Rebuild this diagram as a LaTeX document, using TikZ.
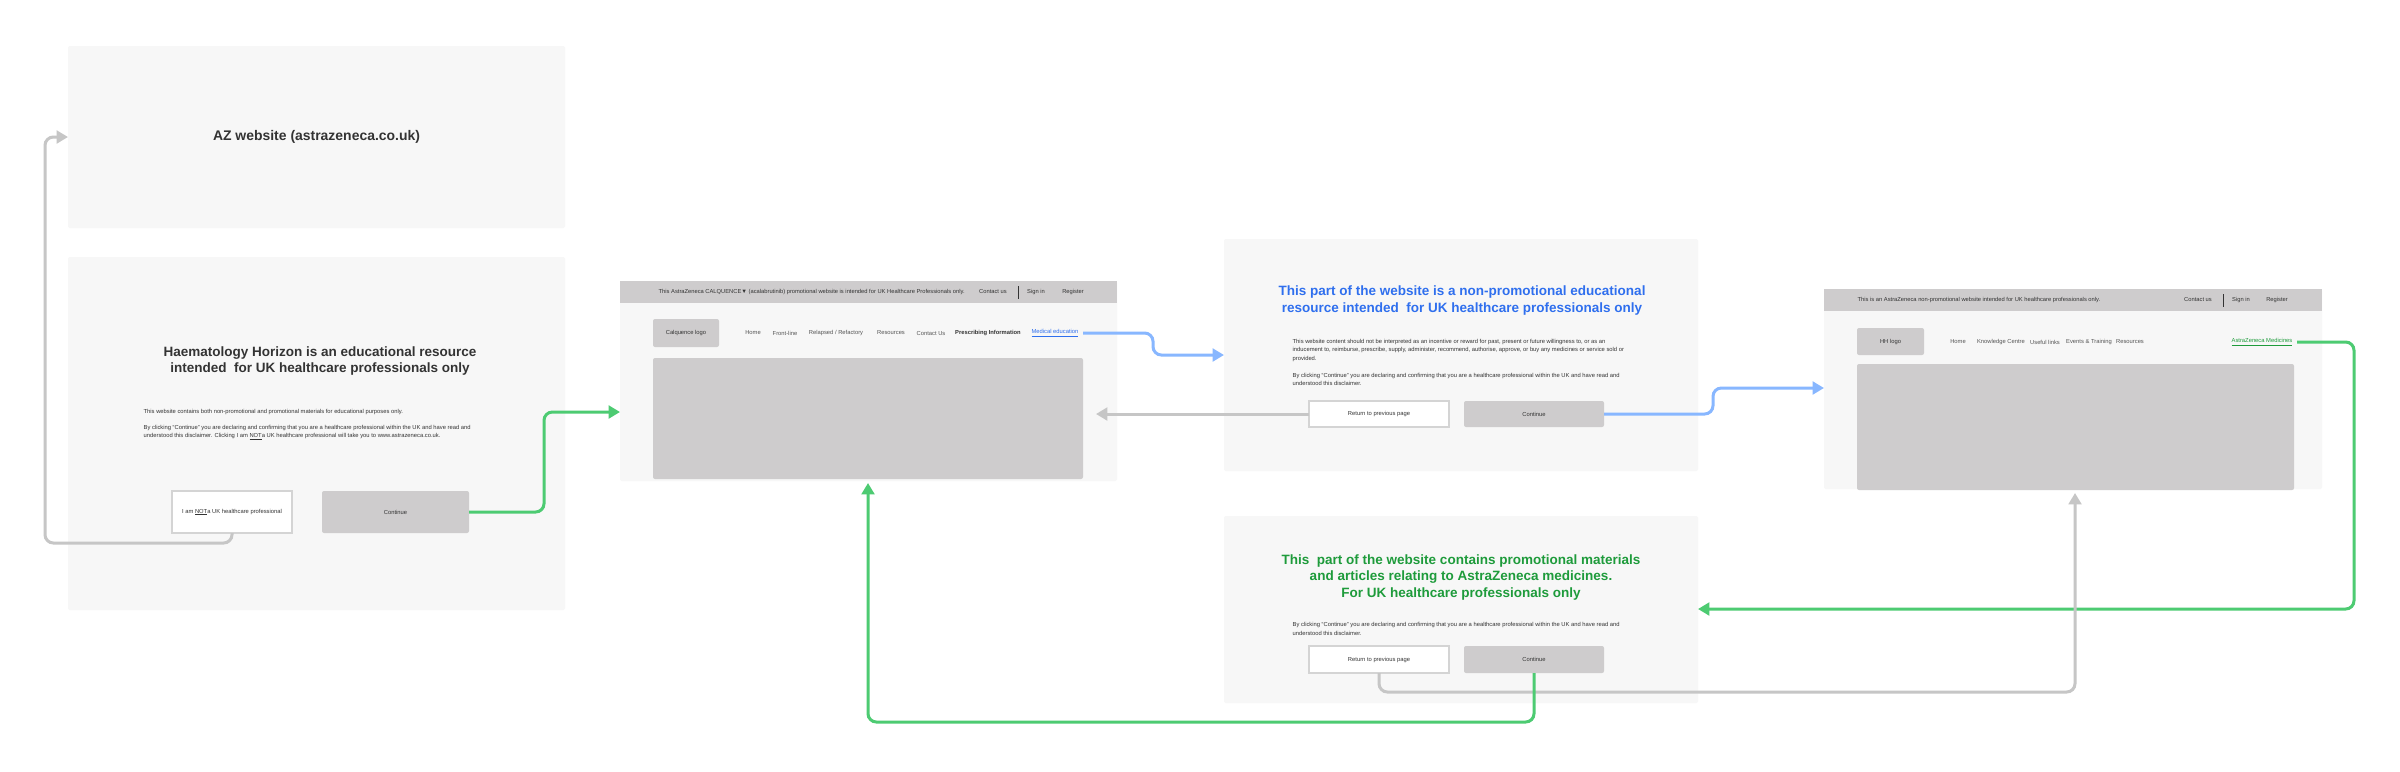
\documentclass[tikz,border=0pt]{standalone}
\usepackage{fontspec}
\setmainfont{Liberation Sans}
\usetikzlibrary{arrows.meta,calc}
\definecolor{boxfill}{HTML}{F7F7F7}
\definecolor{btngray}{HTML}{CECCCD}
\definecolor{btnborder}{HTML}{D4D4D4}
\definecolor{linegray}{HTML}{C6C6C6}
\definecolor{lgreen}{HTML}{4DCB72}
\definecolor{lblue}{HTML}{88B7FF}
\definecolor{tblue}{HTML}{2F6FEE}
\definecolor{tgreen}{HTML}{1E9B3B}
\definecolor{txt}{HTML}{333333}
\definecolor{navtxt}{HTML}{555555}
\newlength\mw
\newcommand{\mkbox}[7][]{\node[anchor=north west, inner sep=0pt, outer sep=0pt, minimum width={(#5-#3)*0.3pt}, minimum height={(#6-#4)*0.3pt}, #1] (#2) at (#3,#4) {#7};}
% underline: [thickness]{offset below baseline}{text}
\newcommand{\myul}[3][0.12pt]{\setbox0\hbox{#3}\rlap{\vrule height -#2 depth \dimexpr#2+#1\relax width \wd0}\box0}
\begin{document}
% --- font sizes fitted to the reference line widths (measured outside the picture) ---
\settowidth\mw{\fontsize{10pt}{12pt}\selectfont By clicking “Continue” you are declaring and confirming that you are a healthcare professional within the UK and have read and}%
\pgfmathsetmacro\fsS{10*98.1/\mw}%
\settowidth\mw{\fontsize{10pt}{12pt}\selectfont This AstraZeneca CALQUENCE▼ (acalabrutinib) promotional website is intended for UK Healthcare Professionals only.}%
\pgfmathsetmacro\fsB{10*91.8/\mw}%
\settowidth\mw{\fontsize{10pt}{12pt}\selectfont\bfseries Haematology Horizon is an educational resource}%
\pgfmathsetmacro\fsT{10*93.9/\mw}%
\settowidth\mw{\fontsize{10pt}{12pt}\selectfont\bfseries AZ website (astrazeneca.co.uk)}%
\pgfmathsetmacro\fsA{10*62.1/\mw}%
\tikzset{
  panel/.style={fill=boxfill, draw=none, rounded corners=0.6pt},
  graybar/.style={fill=btngray, draw=none},
  grayblk/.style={fill=btngray, draw=none, rounded corners=0.6pt},
  whitebtn/.style={fill=white, draw=btnborder, line width=0.45pt},
  tiny/.style={font=\fontsize{\fsS pt}{2.46pt}\selectfont, text=txt, inner sep=0pt},
  bartxt/.style={font=\fontsize{\fsB pt}{2.46pt}\selectfont, text=txt, inner sep=0pt},
  navt/.style={font=\fontsize{\fsS pt}{2.46pt}\selectfont, text=navtxt, inner sep=0pt},
  navb/.style={font=\bfseries\fontsize{\fsS pt}{2.46pt}\selectfont, text=txt, inner sep=0pt},
  ttl/.style={font=\bfseries\fontsize{\fsT pt}{4.95pt}\selectfont, align=center, inner sep=0pt},
  azttl/.style={font=\bfseries\fontsize{\fsA pt}{4.95pt}\selectfont, align=center, inner sep=0pt},
  link/.style={line width=0.9pt, rounded corners=2.5pt, -{Triangle[length=3.4pt,width=3.8pt]}},
  sepline/.style={draw=txt, line width=0.3pt},
}%
\begin{tikzpicture}[x=0.3pt, y=-0.3pt]
\useasboundingbox (0,0) rectangle (2400,771);
\fill[white] (0,0) rectangle (2400,771);

% ---------- AZ website ----------
\mkbox[panel]{az}{68}{46}{565}{228}{}
\node[azttl, text=txt] (aztxt) at (az.center) {AZ website (astrazeneca.co.uk)};

% ---------- Haematology Horizon gate ----------
\mkbox[panel]{hh}{68}{257}{565}{610}{}
\node[ttl, text=txt] (hhttl) at (320,361) {Haematology Horizon is an educational resource\\intended\ \ for UK healthcare professionals only};
\node[tiny, anchor=west] (hhb1) at (143,412) {This website contains both non-promotional and promotional materials for educational purposes only.};
\node[tiny, anchor=west] (hhb2) at (143,428) {By clicking “Continue” you are declaring and confirming that you are a healthcare professional within the UK and have read and};
\node[tiny, anchor=west] (hhb3) at (143,436.5) {understood this disclaimer. Clicking I am \myul{0.3pt}{NOT} a UK healthcare professional will take you to www.astrazeneca.co.uk.};
\mkbox[whitebtn,tiny]{hhnot}{172}{491}{292}{533}{I am \myul{0.3pt}{NOT} a UK healthcare professional}
\mkbox[grayblk,tiny]{hhcont}{322}{491}{469}{533}{Continue}

% ---------- Calquence site ----------
\mkbox[panel]{cal}{620}{281}{1117}{481}{}
\mkbox[graybar]{calbar}{620}{281}{1117}{303}{}
\node[bartxt, anchor=west] (calbt) at (658,292) {This AstraZeneca CALQUENCE▼ (acalabrutinib) promotional website is intended for UK Healthcare Professionals only.};
\node[bartxt] (calcu) at (993,292) {Contact us};
\draw[sepline] (1018,286) -- (1018,299);
\node[bartxt] (calsi) at (1036,292) {Sign in};
\node[bartxt] (calre) at (1073,292) {Register};
\mkbox[grayblk,tiny]{callogo}{653}{319}{719}{347}{Calquence logo}
\node[navt] (calnh) at (753,333) {Home};
\node[navt] (calnf) at (785,333) {Front-line};
\node[navt] (calnr) at (836,333) {Relapsed / Refactory};
\node[navt] (calnres) at (891,333) {Resources};
\node[navt] (calnc) at (931,333) {Contact Us};
\node[navb] (calnp) at (988,333) {Prescribing Information};
\node[navt, text=tblue] (calmed) at (1055,333) {\myul[0.35pt]{0.6pt}{Medical education}};
\mkbox[grayblk]{calimg}{653}{358}{1083}{479}{}

% ---------- Non-promotional gate ----------
\mkbox[panel]{edu}{1224}{239}{1698}{471}{}
\node[ttl, text=tblue] (eduttl) at (1462,300.5) {This part of the website is a non-promotional educational\\resource intended\ \ for UK healthcare professionals only};
\node[tiny, anchor=west] (edub1) at (1292,342) {This website content should not be interpreted as an incentive or reward for past, present or future willingness to, or as an};
\node[tiny, anchor=west] (edub2) at (1292,350.3) {inducement to, reimburse, prescribe, supply, administer, recommend, authorise, approve, or buy any medicines or service sold or};
\node[tiny, anchor=west] (edub3) at (1292,358.6) {provided.};
\node[tiny, anchor=west] (edub4) at (1292,375.5) {By clicking “Continue” you are declaring and confirming that you are a healthcare professional within the UK and have read and};
\node[tiny, anchor=west] (edub5) at (1292,383.8) {understood this disclaimer.};
\mkbox[whitebtn,tiny]{edret}{1309}{401}{1449}{427}{Return to previous page}
\mkbox[grayblk,tiny]{edcont}{1464}{401}{1604}{427}{Continue}

% ---------- HH site ----------
\mkbox[panel]{hhs}{1824}{289}{2322}{489}{}
\mkbox[graybar]{hhsbar}{1824}{289}{2322}{311}{}
\node[bartxt, anchor=west] (hhsbt) at (1857,300) {This is an AstraZeneca non-promotional website intended for UK healthcare professionals only.};
\node[bartxt] (hhscu) at (2198,300) {Contact us};
\draw[sepline] (2223,294) -- (2223,307);
\node[bartxt] (hhssi) at (2241,300) {Sign in};
\node[bartxt] (hhsre) at (2277,300) {Register};
\mkbox[grayblk,tiny]{hhslogo}{1857}{328}{1924}{355}{HH logo}
\node[navt] (hhsnh) at (1958,342) {Home};
\node[navt] (hhsnk) at (2001,342) {Knowledge Centre};
\node[navt] (hhsnu) at (2045,342) {Useful links};
\node[navt] (hhsne) at (2089,342) {Events \& Training};
\node[navt] (hhsnr) at (2130,342) {Resources};
\node[navt, text=tgreen] (hhsmed) at (2262,342) {\myul[0.35pt]{0.6pt}{AstraZeneca Medicines}};
\mkbox[grayblk]{hhsimg}{1857}{364}{2294}{490}{}

% ---------- Promotional gate ----------
\mkbox[panel]{promo}{1224}{516}{1698}{703}{}
\node[ttl, text=tgreen] (prttl) at (1461,577) {This\ \ part of the website contains promotional materials\\and articles relating to AstraZeneca medicines.\\For UK healthcare professionals only};
\node[tiny, anchor=west] (prb1) at (1292,624.5) {By clicking “Continue” you are declaring and confirming that you are a healthcare professional within the UK and have read and};
\node[tiny, anchor=west] (prb2) at (1292,633) {understood this disclaimer.};
\mkbox[whitebtn,tiny]{prret}{1309}{646}{1449}{673}{Return to previous page}
\mkbox[grayblk,tiny]{prcont}{1464}{646}{1604}{673}{Continue}

% ---------- connectors ----------
\coordinate (c0) at (45,543);
\draw[link, draw=linegray, color=linegray] (hhnot.south) |- (c0) |- (az.west);

\coordinate (c1) at (544,412);
\draw[link, draw=lgreen, color=lgreen] (hhcont.east) -| (c1) -- (c1 -| cal.west);

\coordinate (c2) at (1153,355);
\draw[link, draw=lblue, color=lblue] ([xshift=1.2pt]calmed.east) -| (c2) -- (c2 -| edu.west);

\coordinate (c3) at (1096,414);
\draw[link, draw=linegray, color=linegray] (edret.west) -- (c3);

\coordinate (c4) at (1713,388);
\draw[link, draw=lblue, color=lblue] (edcont.east) -| (c4) -- (c4 -| hhs.west);

\coordinate (c5) at (2354,609);
\draw[link, draw=lgreen, color=lgreen] ([xshift=1.2pt]hhsmed.east) -| (c5) -- (c5 -| promo.east);

\coordinate (c6) at (2075,692);
\coordinate (c6e) at (2075,493);
\draw[link, draw=linegray, color=linegray] (prret.south) |- (c6) -- (c6e);

\coordinate (c7) at (868,722);
\coordinate (c7e) at (868,483);
\draw[link, draw=lgreen, color=lgreen] (prcont.south) |- (c7) -- (c7e);
\end{tikzpicture}
\end{document}
